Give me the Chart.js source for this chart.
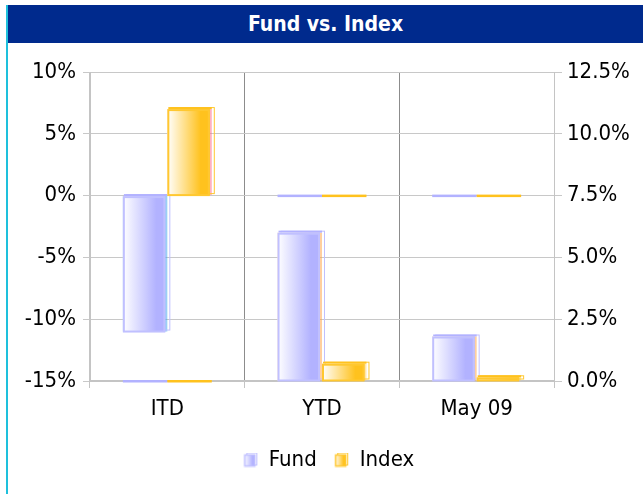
<!DOCTYPE html>
<html>
<head>
<meta charset="utf-8">
<script src="https://cdn.jsdelivr.net/npm/chart.js@4"></script>
<style>
  body { margin: 0; background: #fff; }
  #wrap { position: relative; width: 643px; height: 494px; overflow: hidden; }
  #header {
    position: absolute; left: 8px; top: 5px; width: 635px; height: 38px;
    background: #002a8d; color: #fff; text-align: center;
    font: bold 21px "DejaVu Sans Condensed", "DejaVu Sans", sans-serif; line-height: 38px;
  }
  #edge { position: absolute; left: 6px; top: 5px; width: 2px; height: 489px; background: #1ec0dc; }
  #box { position: absolute; left: 0; top: 43px; width: 643px; height: 451px; }
</style>
</head>
<body>
<div id="wrap">
  <div id="edge"></div>
  <div id="header">Fund vs. Index</div>
  <div id="box"><canvas id="fundChart"></canvas></div>
</div>
<script>
// Categories and values (percent)
var categories = ['ITD', 'YTD', 'May 09'];
var fundLeft = [-11.0, 0, 0];      // left axis
var indexLeft = [7.0, 0, 0];       // left axis
var fundRight = [0, 6.0, 1.8];     // right axis
var indexRight = [0, 0.7, 0.15];   // right axis
var leftTicks = [-15, -10, -5, 0, 5, 10];
var rightTicks = [0, 2.5, 5, 7.5, 10, 12.5];

var colors = {
    fund: { edge: '#c0c0ff', deep: '#b2b2ff' },
    index: { edge: '#ffc830', deep: '#ffc21e' }
};

Chart.defaults.font.family = '"DejaVu Sans Condensed", "DejaVu Sans", sans-serif';
Chart.defaults.font.size = 22;
Chart.defaults.color = '#000';

// Small legend icon with the same shaded look as the bars
function legendIcon(c) {
    var cv = document.createElement('canvas');
    cv.width = 15; cv.height = 15;
    var g = cv.getContext('2d');
    g.strokeStyle = c.edge; g.lineWidth = 1;
    g.strokeRect(3.5, 0.5, 10, 12);
    var grad = g.createLinearGradient(1, 0, 12, 0);
    grad.addColorStop(0, '#ffffff');
    grad.addColorStop(0.75, c.deep);
    grad.addColorStop(1, c.deep);
    g.fillStyle = grad;
    g.fillRect(1, 2, 11, 12);
    g.lineWidth = 1.5;
    g.strokeRect(1.5, 2.5, 10, 11);
    return cv;
}

// Draws the shaded "3d" bars at the positions the bar elements got from the scales
var shadedBars = {
    id: 'shadedBars',
    afterLayout: function(chart) {
        // legend sits centred right of the cyan edge line
        chart.legend.left += 15;
    },
    afterDatasetsDraw: function(chart) {
        var ctx = chart.ctx;
        chart.data.datasets.forEach(function(ds, i) {
            var meta = chart.getDatasetMeta(i);
            var c = colors[ds.kind];
            meta.data.forEach(function(bar) {
                var p = bar.getProps(['x', 'y', 'base', 'width'], true);
                var left = p.x - p.width / 2;
                var top = Math.min(p.y, p.base);
                var h = Math.abs(p.base - p.y);
                ctx.save();
                if (h < 2.5) {
                    ctx.fillStyle = c.deep;
                    ctx.fillRect(left, p.base - 1, p.width, 2.5);
                    ctx.restore();
                    return;
                }
                // back face
                ctx.strokeStyle = c.edge;
                ctx.lineWidth = 1;
                ctx.strokeRect(left + 3.5, top - 1.5, p.width - 1, h);
                ctx.fillStyle = c.deep;
                ctx.fillRect(left + 1, top - 2, p.width - 1, 2);
                // front face
                var grad = ctx.createLinearGradient(left, 0, left + p.width, 0);
                grad.addColorStop(0, '#ffffff');
                grad.addColorStop(0.75, c.deep);
                grad.addColorStop(1, c.deep);
                ctx.fillStyle = grad;
                ctx.fillRect(left, top, p.width - 2, h);
                ctx.lineWidth = 2;
                ctx.strokeRect(left + 1, top + 1, p.width - 4, h - 1);
                ctx.restore();
            });
        });
    }
};

var hidden = 'rgba(0,0,0,0)';

new Chart(document.getElementById('fundChart'), {
    type: 'bar',
    data: {
        labels: categories,
        datasets: [
            { label: 'Fund', kind: 'fund', data: fundLeft, yAxisID: 'y', stack: 'fund' },
            { label: 'Index', kind: 'index', data: indexLeft, yAxisID: 'y', stack: 'index' },
            { label: 'Fund', kind: 'fund', data: fundRight, yAxisID: 'y2', stack: 'fund' },
            { label: 'Index', kind: 'index', data: indexRight, yAxisID: 'y2', stack: 'index' }
        ]
    },
    options: {
        responsive: true,
        maintainAspectRatio: false,
        animation: false,
        datasets: { bar: { categoryPercentage: 0.575, barPercentage: 1.0, backgroundColor: hidden, borderColor: hidden } },
        layout: { padding: { top: 29, left: 0, right: 0, bottom: 13 } },
        plugins: {
            tooltip: { enabled: false },
            legend: {
                position: 'bottom',
                labels: {
                    usePointStyle: true,
                    boxWidth: 14,
                    boxHeight: 14,
                    padding: 18,
                    filter: function(item) { return item.datasetIndex < 2; },
                    generateLabels: function(chart) {
                        return chart.data.datasets.map(function(ds, i) {
                            return {
                                text: ds.label,
                                datasetIndex: i,
                                pointStyle: legendIcon(colors[ds.kind]),
                                fillStyle: hidden,
                                strokeStyle: hidden,
                                lineWidth: 0,
                                fontColor: '#000'
                            };
                        });
                    }
                }
            }
        },
        scales: {
            x: {
                stacked: true,
                offset: true,
                grid: {
                    offset: true,
                    color: function(ctx) { return (ctx.index === 0 || ctx.index === 3) ? '#c4c4c4' : '#8c8c8c'; },
                    tickColor: '#c4c4c4',
                    tickLength: 7
                },
                border: { color: '#c4c4c4', width: 2 },
                ticks: { padding: 8 },
                afterFit: function(scale) { scale.height = 50; }
            },
            y: {
                position: 'left',
                stacked: false,
                min: -15,
                max: 10,
                afterBuildTicks: function(scale) { scale.ticks = leftTicks.map(function(v) { return { value: v }; }); },
                ticks: { padding: 7, callback: function(v) { return v + '%'; } },
                grid: { color: '#c8c8c8', tickLength: 7 },
                border: { color: '#c4c4c4', width: 1 },
                afterFit: function(scale) { scale.width = 90; }
            },
            y2: {
                position: 'right',
                stacked: false,
                min: 0,
                max: 12.5,
                afterBuildTicks: function(scale) { scale.ticks = rightTicks.map(function(v) { return { value: v }; }); },
                ticks: { padding: 5, callback: function(v) { return v.toFixed(1) + '%'; } },
                grid: { drawOnChartArea: false, color: '#c8c8c8', tickLength: 8 },
                border: { color: '#c4c4c4', width: 1 },
                afterFit: function(scale) { scale.width = 89; }
            }
        }
    },
    plugins: [shadedBars]
});
</script>
</body>
</html>
